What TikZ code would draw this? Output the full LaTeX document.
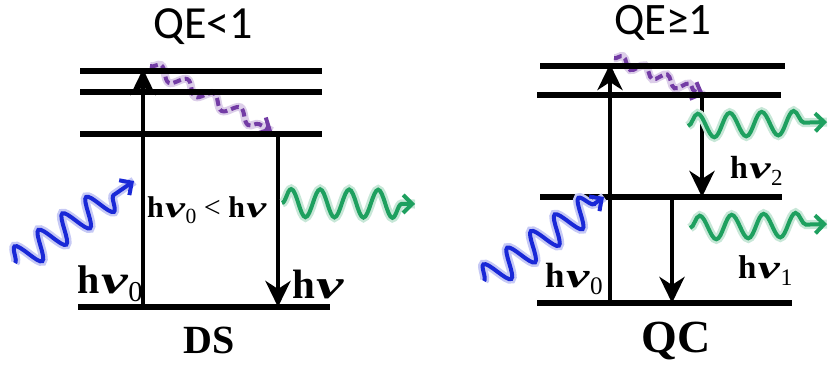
\documentclass[tikz,border=0pt]{standalone}
\usepackage{fontspec}
\usepackage{graphicx}
\setmainfont{Liberation Serif}
\newfontfamily\qefont{Carlito}
\usetikzlibrary{arrows.meta,decorations.pathmorphing}
\definecolor{phblue}{RGB}{25,40,215}
\definecolor{phgreen}{RGB}{30,160,95}
\definecolor{phpurple}{RGB}{115,60,165}
\newcommand{\wnu}{\kern.04em\scalebox{1.5}[1]{\bfseries\itshape ν}}
\newcommand{\hnu}[1]{{\bfseries h}\wnu\kern.02em\raisebox{-.22em}{\fontsize{.72em}{.72em}\selectfont #1}}
\tikzset{
  lvl/.style={line width=5.5pt},
  trans/.style={line width=4.5pt,-{Stealth[length=26pt,width=25pt,inset=8pt]}},
  photon/.style={line width=4pt,#1,decorate,
    decoration={snake,amplitude=14pt,segment length=29pt,post length=12pt},
    preaction={draw,#1!25,line width=9pt,-},
    -{Straight Barb[length=9pt,width=18pt]}},
  relax/.style={line width=4pt,phpurple,dashed,dash pattern=on 8pt off 4pt,decorate,
    decoration={snake,amplitude=6pt,segment length=30pt,post length=10pt},
    preaction={draw,phpurple!25,line width=8pt,solid,-},
    -{Straight Barb[length=9pt,width=18pt]}},
  lab/.style={anchor=base west,inner sep=0pt,font=\fontsize{#1}{#1}\selectfont},
  qe/.style={font=\qefont\fontsize{#1}{#1}\selectfont},
  title/.style={font=\bfseries\fontsize{#1}{#1}\selectfont}
}
\begin{document}
\begin{tikzpicture}[x=1pt,y=-1pt]
  \useasboundingbox (0,0) rectangle (828,368);

  % DS
  \coordinate (dsR0) at (150,66);
  \coordinate (dsR1) at (272,131);
  \draw[relax] (dsR0) -- (dsR1);
  \draw[lvl] (80,71) -- (322,71);
  \draw[lvl] (80,92) -- (322,92);
  \draw[lvl] (80,134) -- (322,134);
  \draw[lvl] (78,307) -- (330,307);
  \coordinate (dsA) at (143,307);
  \coordinate (dsB) at (143,69);
  \coordinate (dsC) at (278,134);
  \coordinate (dsD) at (278,307);
  \draw[trans] (dsA) -- (dsB);
  \draw[trans] (dsC) -- (dsD);
  \coordinate (dsIn0) at (15,263);
  \coordinate (dsIn1) at (134,181);
  \draw[photon=phblue] (dsIn0) -- (dsIn1);
  \coordinate (dsOut0) at (282,203);
  \coordinate (dsOut1) at (415,204);
  \draw[photon=phgreen] (dsOut0) -- (dsOut1);
  \node[qe=46pt] (qe1) at (203,27) {QE<1};
  \node[lab=30pt] (cmp) at (147,217) {\hnu{0}\hspace{.25em}<\hspace{.25em}{\bfseries h}\wnu};
  \node[lab=40pt] (ds0) at (77,293) {\hnu{0}};
  \node[lab=41pt] (dsnu) at (292,298) {{\bfseries h}\wnu};
  \node[title=40pt] (ds) at (209,340) {DS};

  % QC
  \coordinate (qcR0) at (614,58);
  \coordinate (qcR1) at (704,95);
  \draw[relax,decoration={amplitude=5pt,segment length=24pt}] (qcR0) -- (qcR1);
  \draw[lvl] (540,66) -- (785,66);
  \draw[lvl] (537,95) -- (781,95);
  \draw[lvl] (540,197) -- (782,197);
  \draw[lvl] (537,303) -- (792,303);
  \coordinate (qcA) at (610,303);
  \coordinate (qcB) at (610,64);
  \coordinate (qcC) at (702,95);
  \coordinate (qcD) at (702,197);
  \coordinate (qcE) at (672,200);
  \coordinate (qcF) at (672,303);
  \draw[trans] (qcA) -- (qcB);
  \draw[trans] (qcC) -- (qcD);
  \draw[trans] (qcE) -- (qcF);
  \coordinate (qcIn0) at (484,281);
  \coordinate (qcIn1) at (604,197);
  \draw[photon=phblue] (qcIn0) -- (qcIn1);
  \coordinate (qcOut0) at (688,126);
  \coordinate (qcOut1) at (827,122);
  \draw[photon=phgreen,decoration={amplitude=12pt,segment length=32pt}] (qcOut0) -- (qcOut1);
  \coordinate (qcOut2) at (690,228);
  \coordinate (qcOut3) at (827,224);
  \draw[photon=phgreen,decoration={amplitude=12pt,segment length=32pt}] (qcOut2) -- (qcOut3);
  \node[qe=45pt] (qe2) at (663,23) {QE≥1};
  \node[lab=35pt] (qc0) at (545,287) {\hnu{0}};
  \node[lab=32pt] (qc2) at (730,178) {\hnu{2}};
  \node[lab=33pt] (qc1) at (738,278) {\hnu{1}};
  \node[title=46pt] (qc) at (676,341) {QC};
\end{tikzpicture}
\end{document}
